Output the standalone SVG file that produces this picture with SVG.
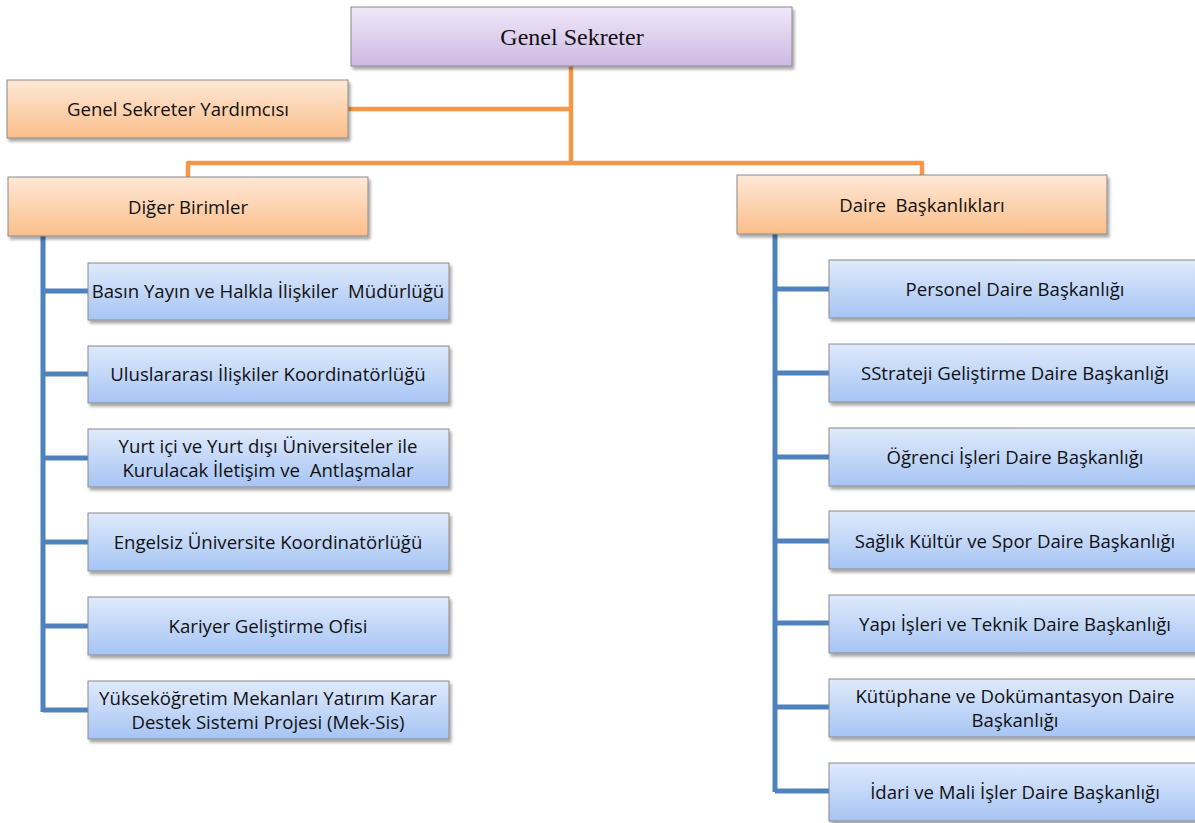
<svg xmlns="http://www.w3.org/2000/svg" width="1195" height="823" viewBox="0 0 1195 823">
  <defs>
    <linearGradient id="gPurple" x1="0" y1="0" x2="0" y2="1">
      <stop offset="0" stop-color="#F0E8F8"/>
      <stop offset="1" stop-color="#CDB9E4"/>
    </linearGradient>
    <linearGradient id="gOrange" x1="0" y1="0" x2="0" y2="1">
      <stop offset="0" stop-color="#FEE8D6"/>
      <stop offset="1" stop-color="#FBBE8A"/>
    </linearGradient>
    <linearGradient id="gBlue" x1="0" y1="0" x2="0" y2="1">
      <stop offset="0" stop-color="#DFEAFC"/>
      <stop offset="1" stop-color="#A6C4F4"/>
    </linearGradient>
    <filter id="shadow" x="-5%" y="-20%" width="112%" height="150%">
      <feDropShadow dx="2" dy="3" stdDeviation="1.8" flood-color="#000" flood-opacity="0.35"/>
    </filter>
  </defs>
  <style>
    .box { stroke: #8A8A8A; stroke-width: 1; filter: url(#shadow); }
    .purple { fill: url(#gPurple); }
    .orange { fill: url(#gOrange); }
    .blue { fill: url(#gBlue); }
    .t { font-family: "Open Sans", "Liberation Sans", sans-serif; font-size: 18.6px; fill: #111; text-anchor: middle; }
    .title { font-family: "Liberation Serif", "Times New Roman", serif; font-size: 24px; fill: #111; text-anchor: middle; }
    .oc { fill: none; stroke: #F79646; stroke-width: 4.5; stroke-linejoin: round; }
    .bc { fill: none; stroke: #4F81BD; stroke-width: 5; stroke-linejoin: round; }
  </style>
  <rect width="1195" height="823" fill="#FFFFFF"/>

  <g id="connectors">
    <path class="oc" d="M571 66 V163"/>
    <path class="oc" d="M348 109 H571"/>
    <path class="oc" d="M188 177 V163 H922 V175"/>
    <path class="bc" d="M43 236 V712"/>
    <path class="bc" d="M43 291 H88 M43 374 H88 M43 458 H88 M43 542 H88 M43 626 H88 M43 710 H88"/>
    <path class="bc" d="M775 234 V792"/>
    <path class="bc" d="M775 289 H829 M775 373 H829 M775 457 H829 M775 541 H829 M775 623 H829 M775 707 H829 M775 791 H829"/>
  </g>

  <g id="genel-sekreter">
    <rect class="box purple" x="351" y="7" width="441" height="59"/>
    <text class="title" x="572" y="45">Genel Sekreter</text>
  </g>
  <g id="genel-sekreter-yardimcisi">
    <rect class="box orange" x="7" y="80" width="341" height="58"/>
    <text class="t" x="178" y="116">Genel Sekreter Yardımcısı</text>
  </g>
  <g id="diger-birimler">
    <rect class="box orange" x="8" y="177" width="360" height="59"/>
    <text class="t" x="188" y="214">Diğer Birimler</text>
  </g>
  <g id="daire-baskanliklari">
    <rect class="box orange" x="737" y="175" width="370" height="59"/>
    <text class="t" x="922" y="212" xml:space="preserve">Daire  Başkanlıkları</text>
  </g>

  <g id="basin-yayin">
    <rect class="box blue" x="88" y="263" width="361" height="57"/>
    <text class="t" x="268" y="298" xml:space="preserve">Basın Yayın ve Halkla İlişkiler  Müdürlüğü</text>
  </g>
  <g id="uluslararasi">
    <rect class="box blue" x="88" y="346" width="361" height="57"/>
    <text class="t" x="268" y="381">Uluslararası İlişkiler Koordinatörlüğü</text>
  </g>
  <g id="yurt-ici">
    <rect class="box blue" x="88" y="429" width="361" height="58"/>
    <text class="t" x="268" y="453">Yurt içi ve Yurt dışı Üniversiteler ile</text>
    <text class="t" x="268" y="477" xml:space="preserve">Kurulacak İletişim ve  Antlaşmalar</text>
  </g>
  <g id="engelsiz">
    <rect class="box blue" x="88" y="513" width="361" height="58"/>
    <text class="t" x="268" y="549">Engelsiz Üniversite Koordinatörlüğü</text>
  </g>
  <g id="kariyer">
    <rect class="box blue" x="88" y="597" width="361" height="58"/>
    <text class="t" x="268" y="633">Kariyer Geliştirme Ofisi</text>
  </g>
  <g id="mek-sis">
    <rect class="box blue" x="88" y="681" width="361" height="58"/>
    <text class="t" x="268" y="705">Yükseköğretim Mekanları Yatırım Karar</text>
    <text class="t" x="268" y="729">Destek Sistemi Projesi (Mek-Sis)</text>
  </g>

  <g id="personel">
    <rect class="box blue" x="829" y="260" width="372" height="58"/>
    <text class="t" x="1015" y="296">Personel Daire Başkanlığı</text>
  </g>
  <g id="strateji">
    <rect class="box blue" x="829" y="344" width="372" height="58"/>
    <text class="t" x="1015" y="380">SStrateji Geliştirme Daire Başkanlığı</text>
  </g>
  <g id="ogrenci">
    <rect class="box blue" x="829" y="428" width="372" height="58"/>
    <text class="t" x="1015" y="464">Öğrenci İşleri Daire Başkanlığı</text>
  </g>
  <g id="saglik">
    <rect class="box blue" x="829" y="511" width="372" height="58"/>
    <text class="t" x="1015" y="548">Sağlık Kültür ve Spor Daire Başkanlığı</text>
  </g>
  <g id="yapi">
    <rect class="box blue" x="829" y="595" width="372" height="58"/>
    <text class="t" x="1015" y="631">Yapı İşleri ve Teknik Daire Başkanlığı</text>
  </g>
  <g id="kutuphane">
    <rect class="box blue" x="829" y="679" width="372" height="58"/>
    <text class="t" x="1015" y="703">Kütüphane ve Dokümantasyon Daire</text>
    <text class="t" x="1015" y="727">Başkanlığı</text>
  </g>
  <g id="idari-mali">
    <rect class="box blue" x="829" y="763" width="372" height="58"/>
    <text class="t" x="1015" y="799">İdari ve Mali İşler Daire Başkanlığı</text>
  </g>
</svg>
